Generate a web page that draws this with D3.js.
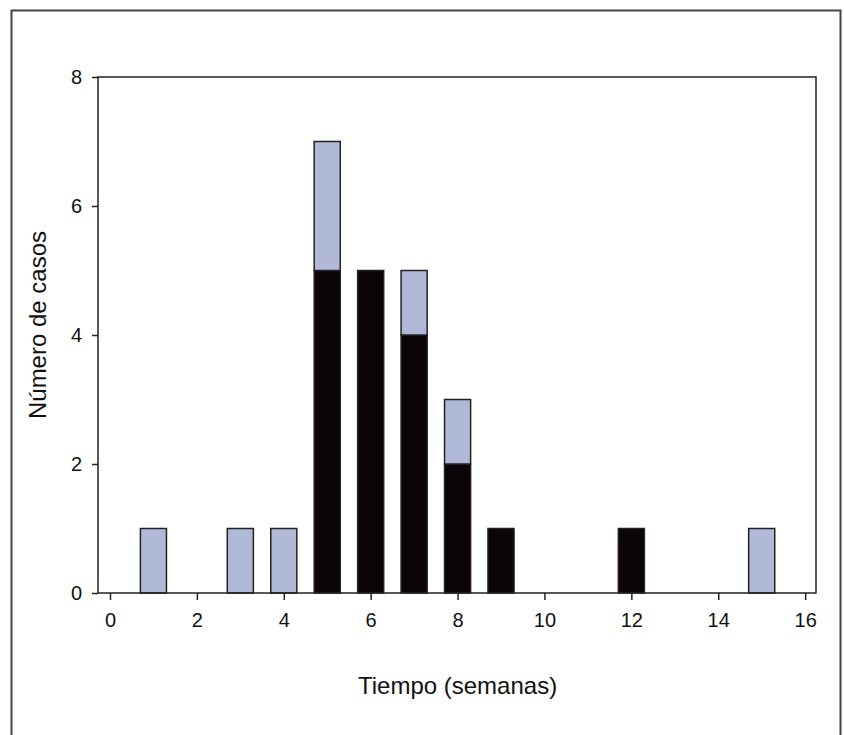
<!DOCTYPE html>
<html>
<head>
<meta charset="utf-8">
<script src="https://cdn.jsdelivr.net/npm/d3@7"></script>
<style>
  body { margin: 0; background: #fff; }
  svg text { font-family: "Liberation Sans", Arial, sans-serif; fill: #111; }
</style>
</head>
<body>
<div id="chart"></div>
<script>
// semanas y casos (negro = abajo, azul = arriba)
var semanas = [1, 3, 4, 5, 6, 7, 8, 9, 12, 15];
var casosNegro = [0, 0, 0, 5, 5, 4, 2, 1, 1, 0];
var casosAzul = [1, 1, 1, 2, 0, 1, 1, 0, 0, 1];
var xTicks = [0, 2, 4, 6, 8, 10, 12, 14, 16];
var yTicks = [0, 2, 4, 6, 8];

var W = 844, H = 735;
var margin = { top: 77, right: 28, bottom: 142, left: 98 };
var width = W - margin.left - margin.right;
var height = H - margin.top - margin.bottom;

var svg = d3.select("#chart").append("svg")
  .attr("width", W)
  .attr("height", H);

// Rahmen um alles
svg.append("path")
  .attr("d", "M11.5," + H + "V10.5H840.5V" + H)
  .attr("fill", "none")
  .attr("stroke", "#444")
  .attr("stroke-width", 2);

var g = svg.append("g")
  .attr("transform", "translate(" + margin.left + "," + margin.top + ")");

var x = d3.scaleLinear().domain([-0.276, 16.25]).range([0, width]);
var y = d3.scaleLinear().domain([0, 8]).range([height, 0]);
var barW = x(0.6) - x(0);

var rows = semanas.map(function (s, i) {
  return { s: s, negro: casosNegro[i], azul: casosAzul[i] };
});

// negro
g.selectAll(".negro")
  .data(rows.filter(function (d) { return d.negro > 0; }))
  .enter().append("rect")
  .attr("class", "negro")
  .attr("x", function (d) { return x(d.s) - barW / 2; })
  .attr("width", barW)
  .attr("y", function (d) { return y(d.negro); })
  .attr("height", function (d) { return y(0) - y(d.negro); })
  .attr("fill", "#0b0409")
  .attr("stroke", "#222")
  .attr("stroke-width", 1.5);

// azul
g.selectAll(".azul")
  .data(rows.filter(function (d) { return d.azul > 0; }))
  .enter().append("rect")
  .attr("class", "azul")
  .attr("x", function (d) { return x(d.s) - barW / 2; })
  .attr("width", barW)
  .attr("y", function (d) { return y(d.negro + d.azul); })
  .attr("height", function (d) { return y(d.negro) - y(d.negro + d.azul); })
  .attr("fill", "#b1b9d8")
  .attr("stroke", "#222")
  .attr("stroke-width", 1.5);

// plot box
g.append("rect")
  .attr("width", width)
  .attr("height", height)
  .attr("fill", "none")
  .attr("stroke", "#222")
  .attr("stroke-width", 1.5);

var xAxis = d3.axisBottom(x).tickValues(xTicks).tickSize(7).tickPadding(13);
var yAxis = d3.axisLeft(y).tickValues(yTicks).tickSize(6).tickPadding(10);

function styleAxis(a) {
  a.select(".domain").remove();
  a.attr("font-size", 20).attr("font-family", "Liberation Sans, Arial, sans-serif");
  a.selectAll("text").style("font-size", "20px");
  a.selectAll("line").attr("stroke", "#222").attr("stroke-width", 1.5);
}

g.append("g")
  .attr("class", "x axis")
  .attr("transform", "translate(0," + height + ")")
  .call(xAxis)
  .call(styleAxis);

g.append("g")
  .attr("class", "y axis")
  .call(yAxis)
  .call(styleAxis);

// Achsentitel
svg.append("text")
  .attr("x", x(8) + margin.left)
  .attr("y", 694)
  .attr("text-anchor", "middle")
  .style("font-size", "24px")
  .text("Tiempo (semanas)");

svg.append("text")
  .attr("transform", "translate(46,325) rotate(-90)")
  .attr("text-anchor", "middle")
  .style("font-size", "24px")
  .text("Número de casos");
</script>
</body>
</html>
